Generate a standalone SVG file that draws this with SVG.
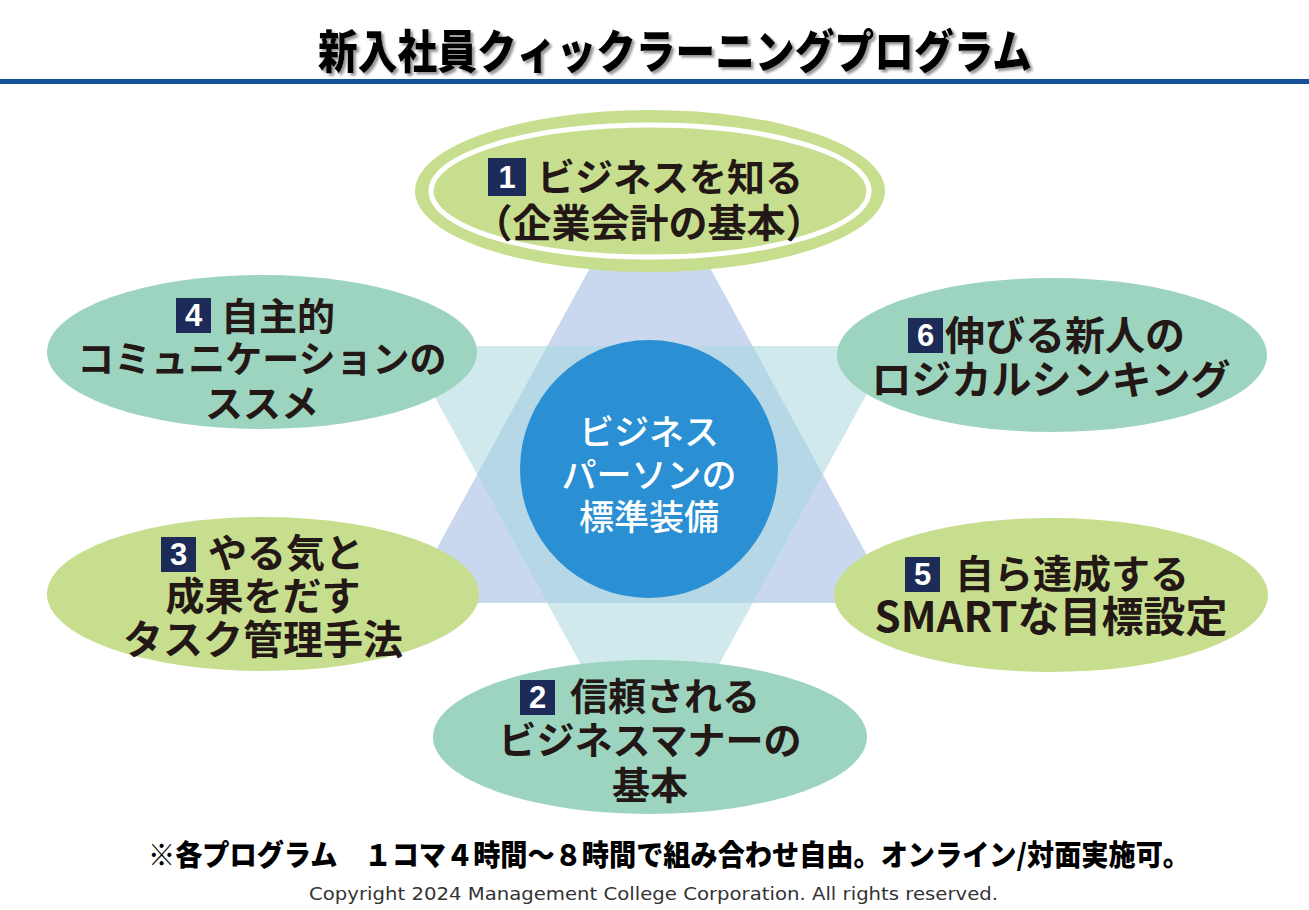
<svg xmlns="http://www.w3.org/2000/svg" width="1309" height="910" viewBox="0 0 1309 910">
<defs>
<filter id="sh" x="-5%" y="-20%" width="110%" height="150%">
<feDropShadow dx="2.5" dy="2.5" stdDeviation="1" flood-color="#8a8a8a" flood-opacity="0.9"/>
</filter>
</defs>
<style>
.jp{font-family:"Noto Sans CJK JP","Noto Sans",sans-serif;font-weight:700;fill:#231815;font-size:38px}
.m{text-anchor:middle}
.box{fill:#1d2b58}
.num{font-family:"Liberation Sans","DejaVu Sans",sans-serif;font-weight:700;font-size:31px;fill:#fff;text-anchor:middle}
.green{fill:#c8de8f}
.teal{fill:#9dd4c0}
.ctr{font-family:"Noto Sans CJK JP","Noto Sans",sans-serif;font-weight:500;font-size:35px;fill:#fff;text-anchor:middle}
</style>
<rect width="1309" height="910" fill="#fff"/>
<g id="title">
<text x="675" y="68" class="jp m" style="font-size:46px;font-weight:900;fill:#000" textLength="714" lengthAdjust="spacingAndGlyphs" filter="url(#sh)">新入社員クィックラーニングプログラム</text>
<rect x="0" y="79" width="1309" height="5" fill="#17519c"/>
</g>
<g id="connectors">
<polygon points="650,158 893,603 407,603" fill="#c9d7ef"/>
<polygon points="407,346 893,346 650,791" fill="#cfe9ec"/>
<polygon points="547.3,346 752.7,346 822.8,474.5 752.7,603 547.3,603 477.2,474.5" fill="#b6d8e6"/>
</g>
<g id="center">
<circle cx="649" cy="469" r="129" fill="#2a8fd3"/>
<text x="649" y="445" class="ctr">ビジネス</text>
<text x="649" y="488" class="ctr">パーソンの</text>
<text x="649" y="530" class="ctr">標準装備</text>
</g>
<g id="n1">
<ellipse cx="650" cy="191" rx="235" ry="81" class="green"/>
<ellipse cx="650" cy="191" rx="219" ry="66" fill="none" stroke="#fff" stroke-width="5"/>
<rect x="488" y="158" width="38" height="38" class="box"/>
<text x="507" y="188" class="num">1</text>
<text x="537" y="191" class="jp">ビジネスを知る</text>
<text x="649" y="237" class="jp m" style="font-size:39px">（企業会計の基本）</text>
</g>
<g id="n4">
<ellipse cx="262" cy="352" rx="215" ry="77" class="teal"/>
<rect x="176" y="298" width="35" height="35" class="box"/>
<text x="193.5" y="326" class="num">4</text>
<text x="221" y="330" class="jp">自主的</text>
<text x="262" y="373" class="jp m" style="font-size:37px">コミュニケーションの</text>
<text x="262" y="417" class="jp m">ススメ</text>
</g>
<g id="n6">
<ellipse cx="1052" cy="355" rx="215" ry="77" class="teal"/>
<rect x="908" y="318" width="35" height="35" class="box"/>
<text x="925.5" y="346" class="num">6</text>
<text x="945" y="350" class="jp" style="font-size:40px">伸びる新人の</text>
<text x="1051" y="394" class="jp m" style="font-size:40px">ロジカルシンキング</text>
</g>
<g id="n3">
<ellipse cx="263" cy="594" rx="216" ry="77" class="green"/>
<rect x="161" y="537" width="35" height="35" class="box"/>
<text x="178.5" y="565" class="num">3</text>
<text x="208" y="567" class="jp" style="font-size:39px">やる気と</text>
<text x="263" y="610" class="jp m" style="font-size:39px">成果をだす</text>
<text x="263" y="654" class="jp m" style="font-size:40px">タスク管理手法</text>
</g>
<g id="n5">
<ellipse cx="1051" cy="595" rx="217" ry="77" class="green"/>
<rect x="905" y="557" width="35" height="35" class="box"/>
<text x="922.5" y="585" class="num">5</text>
<text x="955" y="588" class="jp" style="font-size:39px">自ら達成する</text>
<text x="1051" y="632" class="jp m" style="font-size:42px">SMARTな目標設定</text>
</g>
<g id="n2">
<ellipse cx="650" cy="737" rx="217" ry="77" class="teal"/>
<rect x="520" y="680" width="35" height="35" class="box"/>
<text x="537.5" y="708" class="num">2</text>
<text x="570" y="710" class="jp">信頼される</text>
<text x="650" y="754" class="jp m">ビジネスマナーの</text>
<text x="650" y="799" class="jp m">基本</text>
</g>
<g id="footer">
<text x="148" y="866" class="jp" style="font-size:29px;font-weight:900;fill:#000" textLength="1042" lengthAdjust="spacingAndGlyphs">※各プログラム　１コマ４時間～８時間で組み合わせ自由。オンライン/対面実施可。</text>
<text x="309" y="900" style="font-family:'DejaVu Sans',sans-serif;font-size:17px;fill:#333" textLength="689" lengthAdjust="spacingAndGlyphs">Copyright 2024 Management College Corporation. All rights reserved.</text>
</g>
</svg>
